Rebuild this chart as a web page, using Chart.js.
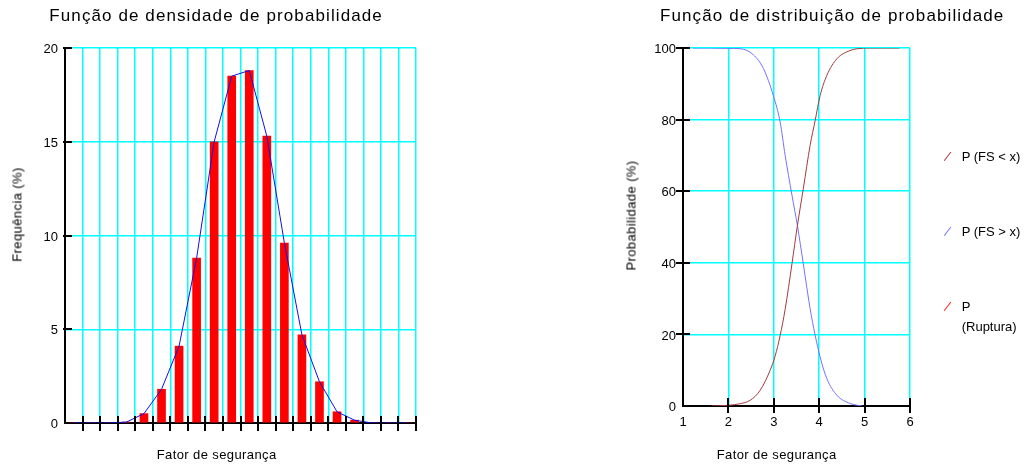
<!DOCTYPE html>
<html>
<head>
<meta charset="utf-8">
<script src="https://cdn.jsdelivr.net/npm/chart.js@4.4.1/dist/chart.umd.min.js"></script>
<style>
  body { margin: 0; background: #fff; width: 1029px; height: 468px; position: relative; overflow: hidden;
         font-family: "Liberation Sans", Arial, sans-serif; color: #000; }
  canvas { position: absolute; top: 0; }
  #chart-densidade { left: 0; }
  #chart-distribuicao { left: 520px; }
  .txt { position: absolute; white-space: nowrap; }
  .titulo { font-size: 17px; line-height: 17px; letter-spacing: 1.1px; top: 6.6px; }
  .eixo { font-size: 13px; line-height: 13px; letter-spacing: 0.4px; }
  .vert { width: 140px; text-align: center; transform: rotate(-90deg); }
  #legenda { position: absolute; left: 941px; top: 146.7px; font-size: 13px; line-height: 20px; }
  .item { position: relative; padding-left: 20.7px; width: 64px; margin-bottom: 55px; }
  .marca { position: absolute; left: 5.9px; top: 4.5px; width: 1.3px; height: 11px; transform: rotate(37deg); }
</style>
</head>
<body>
<canvas id="chart-densidade" width="520" height="468"></canvas>
<canvas id="chart-distribuicao" width="509" height="468"></canvas>

<div class="txt titulo" style="left:49.3px">Função de densidade de probabilidade</div>
<div class="txt titulo" style="left:660px">Função de distribuição de probabilidade</div>
<div class="txt eixo" style="left:156.7px; top:448.3px">Fator de segurança</div>
<div class="txt eixo" style="left:716.7px; top:448.3px">Fator de segurança</div>
<div class="txt eixo vert" style="left:-53.5px; top:207.5px">Frequência (%)</div>
<div class="txt eixo vert" style="left:560.5px; top:208.5px">Probabilidade (%)</div>
<div id="legenda"></div>

<script>
// histograma (classes do fator de segurança)
const binCenters = [0.5, 1.5, 2.5, 3.5, 4.5, 5.5, 6.5, 7.5, 8.5, 9.5,
  10.5, 11.5, 12.5, 13.5, 14.5, 15.5, 16.5, 17.5, 18.5, 19.5];
const frequency = [0, 0, 0, 0.05, 0.5, 1.8, 4.1, 8.8, 15.0, 18.5,
  18.8, 15.3, 9.6, 4.7, 2.2, 0.6, 0.15, 0, 0, 0];
const freqTicks = [0, 5, 10, 15, 20];

// curvas acumuladas
const fsLessX = [1.63, 2.0, 2.26, 2.48, 2.7, 2.92, 3.03, 3.14, 3.25, 3.4, 3.52,
  3.65, 3.8, 3.91, 4.02, 4.17, 4.39, 4.68, 4.84, 5.1, 5.5, 5.77];
const fsLessY = [0, 0.2, 0.65, 1.6, 4.4, 10, 14, 19.7, 27, 39.7, 50.4,
  60.7, 72.8, 79.7, 86.7, 92.4, 97, 99.3, 99.8, 100, 100, 100];
const fsMoreX = [1.22, 1.6, 2.0, 2.26, 2.55, 2.77, 2.99, 3.14, 3.25, 3.4, 3.52,
  3.65, 3.8, 3.91, 4.02, 4.17, 4.39, 4.68, 4.84, 4.95];
const fsMoreY = [100, 100, 99.9, 99.8, 98.1, 94.3, 86.7, 79.3, 70, 58.9, 50.4,
  39.7, 27.2, 19.8, 13.7, 7.6, 3, 0.7, 0.2, 0];
const fsTicks = [1, 2, 3, 4, 5, 6];
const probTicks = [0, 20, 40, 60, 80, 100];

Chart.defaults.font.family = '"Liberation Sans", Arial, sans-serif';
Chart.defaults.font.size = 13;
Chart.defaults.color = "#000";

const GRID = "#00ffff";

// marcas de escala que cruzam o eixo
const crossTicks = {
  id: "crossTicks",
  afterDraw(chart, args, o) {
    const { ctx, scales: { x, y } } = chart;
    ctx.save();
    ctx.strokeStyle = "#000";
    ctx.lineWidth = 2;
    ctx.beginPath();
    x.ticks.forEach((t) => {
      if (t.value === x.min) return;
      const px = Math.round(x.getPixelForValue(t.value));
      ctx.moveTo(px, x.top - o.xUp);
      ctx.lineTo(px, x.top + o.xDown);
    });
    y.ticks.forEach((t) => {
      if (t.value === y.min) return;
      const py = Math.round(y.getPixelForValue(t.value));
      ctx.moveTo(y.right - o.yOut, py);
      ctx.lineTo(y.right + o.yIn, py);
    });
    ctx.stroke();
    ctx.restore();
  },
};

const pts = (xs, ys) => xs.map((v, i) => ({ x: v, y: ys[i] }));

new Chart(document.getElementById("chart-densidade"), {
  type: "bar",
  data: {
    datasets: [
      {
        type: "line",
        label: "Frequência",
        data: pts(binCenters, frequency),
        borderColor: "#1010e8",
        borderWidth: 1,
        pointRadius: 0,
        tension: 0,
        order: 0,
      },
      {
        type: "bar",
        label: "Frequência",
        data: pts(binCenters, frequency),
        backgroundColor: "#ff0000",
        barThickness: 8,
        order: 1,
      },
    ],
  },
  options: {
    responsive: false,
    animation: false,
    events: [],
    layout: { padding: { left: 0, right: 104, top: 48, bottom: 0 } },
    plugins: {
      legend: { display: false },
      tooltip: { enabled: false },
      crossTicks: { xUp: 7, xDown: 8, yOut: 2, yIn: 7 },
    },
    scales: {
      x: {
        type: "linear",
        min: 0,
        max: 20,
        offset: false,
        ticks: { display: false, stepSize: 1 },
        grid: { color: GRID, lineWidth: 1.5, drawTicks: false, offset: false },
        border: { color: "#000", width: 2 },
        afterFit: (s) => { s.height = 45; },
      },
      y: {
        min: 0,
        max: 20,
        afterBuildTicks: (s) => { s.ticks = freqTicks.map((v) => ({ value: v })); },
        ticks: { padding: 7, labelOffset: 1.5 },
        grid: { color: GRID, lineWidth: 1.5, drawTicks: false },
        border: { color: "#000", width: 2 },
        afterFit: (s) => { s.width = 65; },
      },
    },
  },
  plugins: [crossTicks],
});

const distChart = new Chart(document.getElementById("chart-distribuicao"), {
  type: "line",
  data: {
    datasets: [
      {
        label: "P (FS < x)",
        data: pts(fsLessX, fsLessY),
        borderColor: "#a33a3a",
        borderWidth: 1,
        pointRadius: 0,
        cubicInterpolationMode: "monotone",
      },
      {
        label: "P (FS > x)",
        data: pts(fsMoreX, fsMoreY),
        borderColor: "#7272ff",
        borderWidth: 1,
        pointRadius: 0,
        cubicInterpolationMode: "monotone",
      },
      {
        label: "P (Ruptura)",
        data: [],
        borderColor: "#ff1a1a",
        borderWidth: 1,
        pointRadius: 0,
      },
    ],
  },
  options: {
    responsive: false,
    animation: false,
    events: [],
    layout: { padding: { left: 0, right: 119, top: 48, bottom: 0 } },
    plugins: {
      legend: { display: false },
      tooltip: { enabled: false },
      crossTicks: { xUp: 8, xDown: 7, yOut: 7, yIn: 7 },
    },
    scales: {
      x: {
        type: "linear",
        min: 1,
        max: 6,
        afterBuildTicks: (s) => { s.ticks = fsTicks.map((v) => ({ value: v })); },
        ticks: { padding: 9 },
        grid: { color: GRID, lineWidth: 1.5, drawTicks: false },
        border: { color: "#000", width: 2 },
        afterFit: (s) => { s.height = 62; },
      },
      y: {
        min: 0,
        max: 100,
        afterBuildTicks: (s) => { s.ticks = probTicks.map((v) => ({ value: v })); },
        ticks: { padding: 7, labelOffset: 1.7 },
        grid: { color: GRID, lineWidth: 1.5, drawTicks: false },
        border: { color: "#000", width: 2 },
        afterFit: (s) => { s.width = 163; },
      },
    },
  },
  plugins: [crossTicks],
});

// legenda em HTML a partir dos itens do próprio gráfico
const legenda = document.getElementById("legenda");
Chart.defaults.plugins.legend.labels.generateLabels(distChart).forEach((it) => {
  const div = document.createElement("div");
  div.className = "item";
  const mk = document.createElement("span");
  mk.className = "marca";
  mk.style.background = it.strokeStyle;
  div.appendChild(mk);
  div.appendChild(document.createTextNode(it.text));
  legenda.appendChild(div);
});
</script>
</body>
</html>
